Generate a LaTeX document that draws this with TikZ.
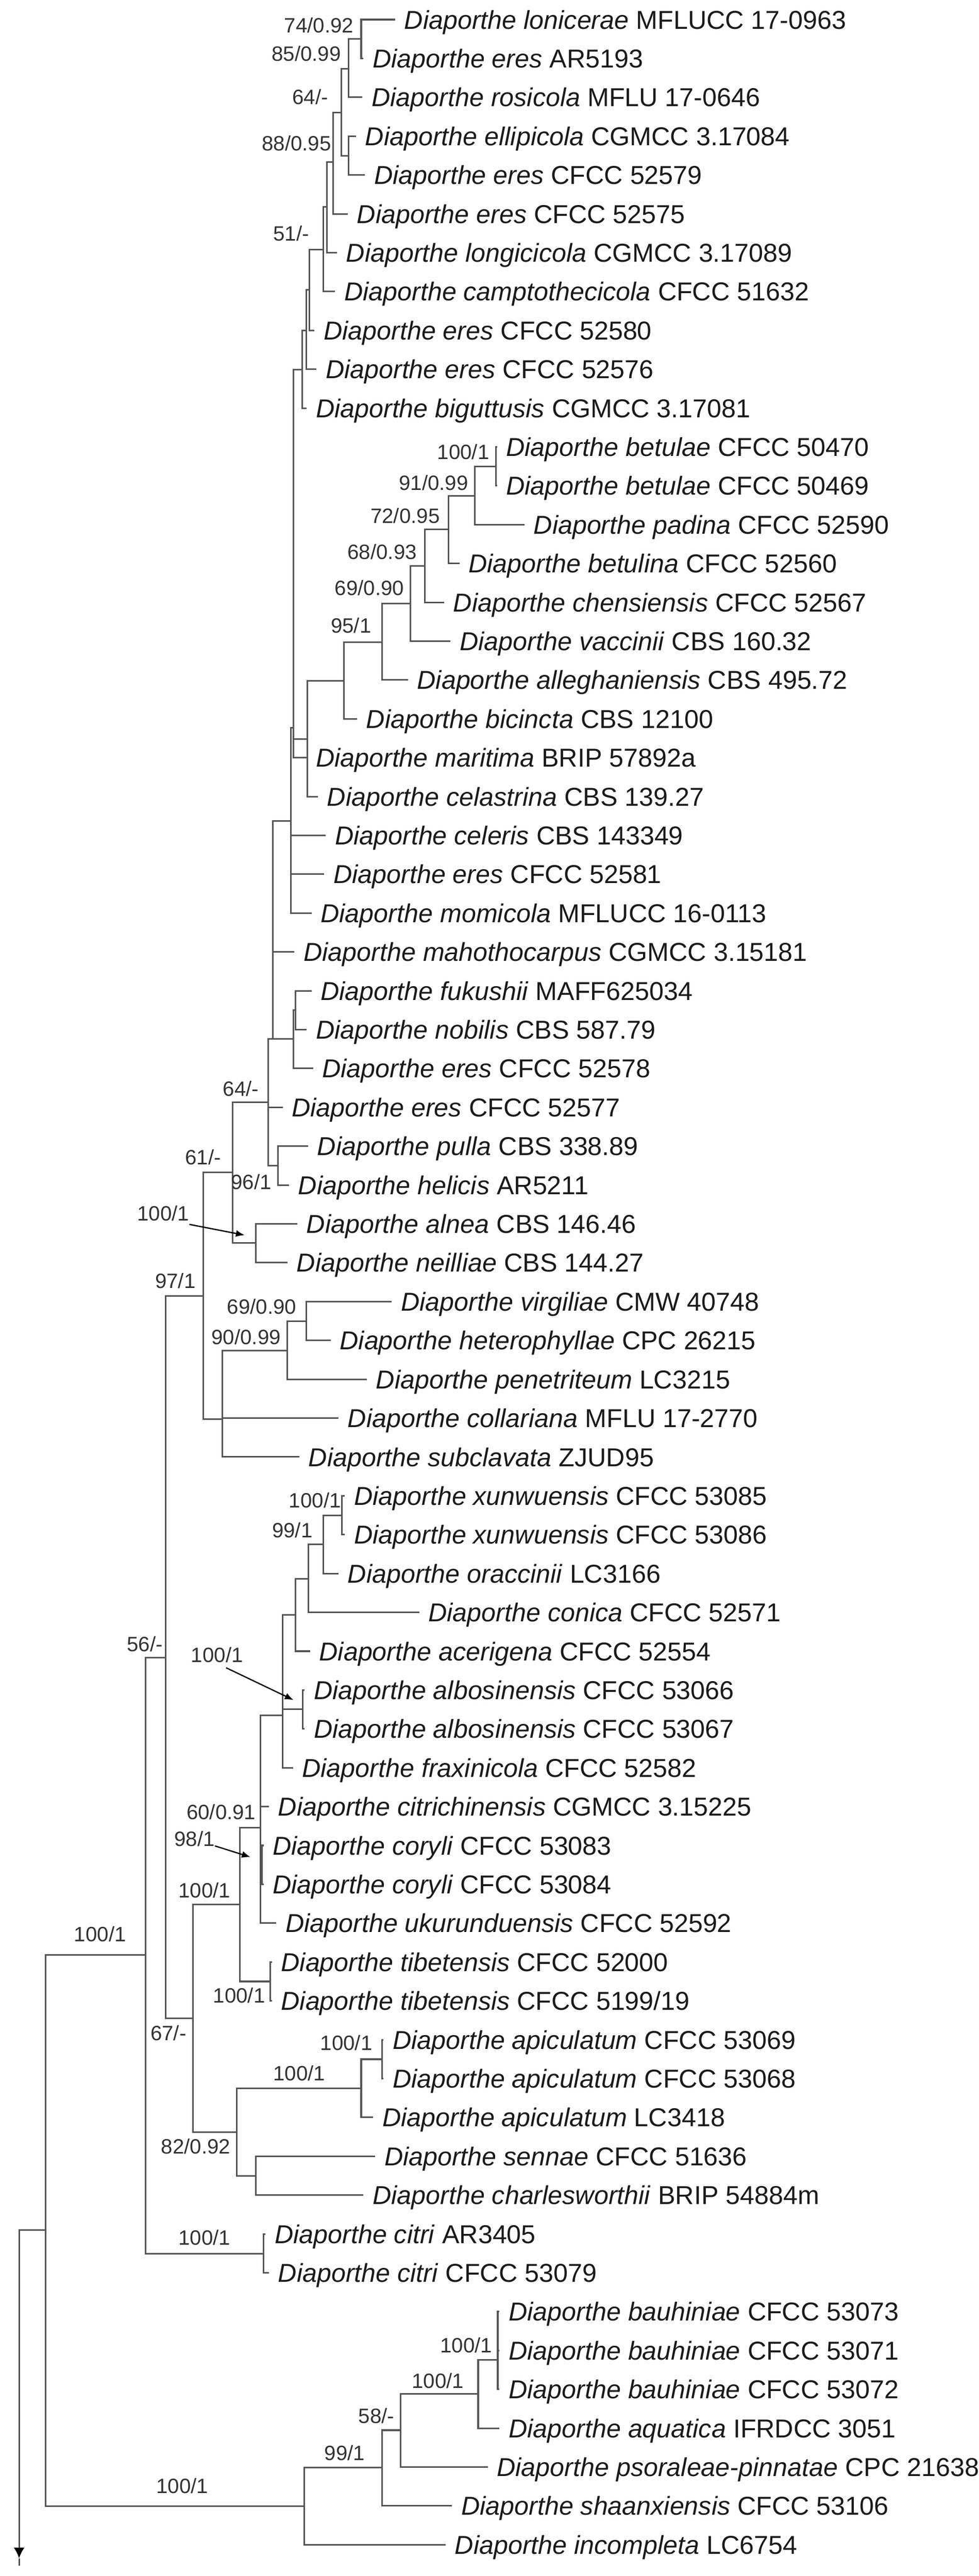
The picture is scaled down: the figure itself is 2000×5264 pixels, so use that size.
\documentclass[tikz,border=0pt]{standalone}
\usepackage{fontspec}
\setmainfont{Liberation Sans}
\usetikzlibrary{arrows.meta}
\definecolor{brcol}{HTML}{555555}
\definecolor{txtcol}{HTML}{1A1A1A}
\definecolor{labcol}{HTML}{333333}
\tikzset{
  branch/.style={draw=brcol, line width=1.6pt, line cap=rect},
  taxon/.style={anchor=base west, inner sep=0pt, text=txtcol, font=\fontsize{26.45pt}{30pt}\selectfont},
  suplabel/.style={anchor=base east, inner sep=0pt, text=labcol, font=\fontsize{21.2pt}{24pt}\selectfont},
  ptr/.style={draw=black, line width=1.3pt, -{Latex[length=9pt,width=7pt]}},
  rootline/.style={draw=brcol, line width=1.6pt}
}
\newcommand\mytaxon[5]{%
  \coordinate (#1) at (#2,{40+(#3-1)*79.385});
  \node[taxon] (#1l) at (#2+20,{40+(#3-1)*79.385+19}) {\textit{Diaporthe #4} #5};}
\newcommand\brch[2]{\draw[branch] (#1) |- (#2);}
\newcommand\suplab[4]{\node[suplabel] (#1) at (#2,#3+15) {#4};}
\begin{document}
\begin{tikzpicture}[x=0.5pt,y=-0.5pt]
\fill[white] (0,0) rectangle (2000,5264);
\useasboundingbox (0,0) rectangle (2000,5264);
% ---------- taxa ----------
\mytaxon{t1}{806}{1}{lonicerae}{MFLUCC 17-0963}
\mytaxon{t2}{741}{2}{eres}{AR5193}
\mytaxon{t3}{739}{3}{rosicola}{MFLU 17-0646}
\mytaxon{t4}{726}{4}{ellipicola}{CGMCC 3.17084}
\mytaxon{t5}{744}{5}{eres}{CFCC 52579}
\mytaxon{t6}{709}{6}{eres}{CFCC 52575}
\mytaxon{t7}{687}{7}{longicicola}{CGMCC 3.17089}
\mytaxon{t8}{683}{8}{camptothecicola}{CFCC 51632}
\mytaxon{t9}{641}{9}{eres}{CFCC 52580}
\mytaxon{t10}{645}{10}{eres}{CFCC 52576}
\mytaxon{t11}{625}{11}{biguttusis}{CGMCC 3.17081}
\mytaxon{t12}{1014}{12}{betulae}{CFCC 50470}
\mytaxon{t13}{1014}{13}{betulae}{CFCC 50469}
\mytaxon{t14}{1070}{14}{padina}{CFCC 52590}
\mytaxon{t15}{937}{15}{betulina}{CFCC 52560}
\mytaxon{t16}{906}{16}{chensiensis}{CFCC 52567}
\mytaxon{t17}{919}{17}{vaccinii}{CBS 160.32}
\mytaxon{t18}{832}{18}{alleghaniensis}{CBS 495.72}
\mytaxon{t19}{728}{19}{bicincta}{CBS 12100}
\mytaxon{t20}{625}{20}{maritima}{BRIP 57892a}
\mytaxon{t21}{648}{21}{celastrina}{CBS 139.27}
\mytaxon{t22}{664}{22}{celeris}{CBS 143349}
\mytaxon{t23}{661}{23}{eres}{CFCC 52581}
\mytaxon{t24}{635}{24}{momicola}{MFLUCC 16-0113}
\mytaxon{t25}{600}{25}{mahothocarpus}{CGMCC 3.15181}
\mytaxon{t26}{635}{26}{fukushii}{MAFF625034}
\mytaxon{t27}{625}{27}{nobilis}{CBS 587.79}
\mytaxon{t28}{638}{28}{eres}{CFCC 52578}
\mytaxon{t29}{576}{29}{eres}{CFCC 52577}
\mytaxon{t30}{628}{30}{pulla}{CBS 338.89}
\mytaxon{t31}{589}{31}{helicis}{AR5211}
\mytaxon{t32}{606}{32}{alnea}{CBS 146.46}
\mytaxon{t33}{586}{33}{neilliae}{CBS 144.27}
\mytaxon{t34}{799}{34}{virgiliae}{CMW 40748}
\mytaxon{t35}{674}{35}{heterophyllae}{CPC 26215}
\mytaxon{t36}{748}{36}{penetriteum}{LC3215}
\mytaxon{t37}{690}{37}{collariana}{MFLU 17-2770}
\mytaxon{t38}{610}{38}{subclavata}{ZJUD95}
\mytaxon{t39}{703}{39}{xunwuensis}{CFCC 53085}
\mytaxon{t40}{703}{40}{xunwuensis}{CFCC 53086}
\mytaxon{t41}{690}{41}{oraccinii}{LC3166}
\mytaxon{t42}{855}{42}{conica}{CFCC 52571}
\mytaxon{t43}{632}{43}{acerigena}{CFCC 52554}
\mytaxon{t44}{621}{44}{albosinensis}{CFCC 53066}
\mytaxon{t45}{621}{45}{albosinensis}{CFCC 53067}
\mytaxon{t46}{597}{46}{fraxinicola}{CFCC 52582}
\mytaxon{t47}{548}{47}{citrichinensis}{CGMCC 3.15225}
\mytaxon{t48}{537}{48}{coryli}{CFCC 53083}
\mytaxon{t49}{537}{49}{coryli}{CFCC 53084}
\mytaxon{t50}{563}{50}{ukurunduensis}{CFCC 52592}
\mytaxon{t51}{554}{51}{tibetensis}{CFCC 52000}
\mytaxon{t52}{554}{52}{tibetensis}{CFCC 5199/19}
\mytaxon{t53}{782}{53}{apiculatum}{CFCC 53069}
\mytaxon{t54}{782}{54}{apiculatum}{CFCC 53068}
\mytaxon{t55}{761}{55}{apiculatum}{LC3418}
\mytaxon{t56}{765}{56}{sennae}{CFCC 51636}
\mytaxon{t57}{741}{57}{charlesworthii}{BRIP 54884m}
\mytaxon{t58}{541}{58}{citri}{AR3405}
\mytaxon{t59}{548}{59}{citri}{CFCC 53079}
\mytaxon{t60}{1019}{60}{bauhiniae}{CFCC 53073}
\mytaxon{t61}{1019}{61}{bauhiniae}{CFCC 53071}
\mytaxon{t62}{1019}{62}{bauhiniae}{CFCC 53072}
\mytaxon{t63}{1019}{63}{aquatica}{IFRDCC 3051}
\mytaxon{t64}{995}{64}{psoraleae-pinnatae}{CPC 21638}
\mytaxon{t65}{922}{65}{shaanxiensis}{CFCC 53106}
\mytaxon{t66}{909}{66}{incompleta}{LC6754}
% ---------- internal nodes ----------
\coordinate (A) at (738,79);
\coordinate (B) at (712,141);
\coordinate (D) at (712,318);
\coordinate (C) at (697,230);
\coordinate (E) at (681,331);
\coordinate (F1) at (668,423);
\coordinate (F) at (661,510);
\coordinate (H1) at (632,592);
\coordinate (H) at (626,675);
\coordinate (I) at (617,755);
\coordinate (J) at (1013,953);
\coordinate (K) at (970,1013);
\coordinate (L) at (916,1082);
\coordinate (M) at (868,1156);
\coordinate (N) at (839,1233);
\coordinate (O) at (781,1312);
\coordinate (P) at (703,1391);
\coordinate (Q) at (628,1510);
\coordinate (S) at (600,1487);
\coordinate (R) at (594,1678);
\coordinate (U1) at (604,2064);
\coordinate (U) at (600,2123);
\coordinate (T) at (557,2123);
\coordinate (V) at (568,2382);
\coordinate (W) at (548,2252);
\coordinate (Y) at (523,2540);
\coordinate (X) at (475,2396);
\coordinate (AB) at (626,2700);
\coordinate (AC) at (587,2760);
\coordinate (AD) at (454,2900);
\coordinate (Z) at (415,2648);
\coordinate (BA) at (699,3097);
\coordinate (BB) at (661,3156);
\coordinate (BC) at (630,3226);
\coordinate (BD) at (604,3300);
\coordinate (BE) at (619,3493);
\coordinate (BF) at (577,3505);
\coordinate (BI) at (535,3810);
\coordinate (BH) at (532,3735);
\coordinate (BK) at (552,4049);
\coordinate (BJ) at (490,3892);
\coordinate (BO) at (781,4208);
\coordinate (BM) at (738,4267);
\coordinate (BN) at (523,4446);
\coordinate (BL) at (484,4357);
\coordinate (AH) at (394,4124);
\coordinate (AF) at (338,3387);
\coordinate (AJ) at (539,4605);
\coordinate (AI) at (297,3995);
\coordinate (AQ) at (1017,4763);
\coordinate (AP) at (1017,4822);
\coordinate (AO) at (977,4892);
\coordinate (AN) at (819,4966);
\coordinate (AM) at (781,5042);
\coordinate (AL) at (622,5121);
\coordinate (AK) at (93,4557);
\coordinate (root) at (39,4557);
\coordinate (rootarrow) at (39,5228);
\coordinate (rootend) at (39,5243);
% ---------- branches ----------
\brch{A}{t1}\brch{A}{t2}\brch{B}{A}\brch{B}{t3}
\brch{D}{t4}\brch{D}{t5}\brch{C}{B}\brch{C}{D}
\brch{E}{C}\brch{E}{t6}\brch{F1}{E}\brch{F1}{t7}
\brch{F}{F1}\brch{F}{t8}\brch{H1}{F}\brch{H1}{t9}
\brch{H}{H1}\brch{H}{t10}\brch{I}{H}\brch{I}{t11}
\brch{J}{t12}\brch{J}{t13}\brch{K}{J}\brch{K}{t14}
\brch{L}{K}\brch{L}{t15}\brch{M}{L}\brch{M}{t16}
\brch{N}{M}\brch{N}{t17}\brch{O}{N}\brch{O}{t18}
\brch{P}{O}\brch{P}{t19}\brch{Q}{P}\brch{Q}{t21}
\brch{S}{I}\brch{S}{Q}\brch{S}{t20}
\brch{R}{S}\brch{R}{t22}\brch{R}{t23}\brch{R}{t24}
\brch{U1}{t26}\brch{U1}{t27}\brch{U}{U1}\brch{U}{t28}
\brch{T}{R}\brch{T}{t25}\brch{T}{U}
\brch{V}{t30}\brch{V}{t31}
\brch{W}{T}\brch{W}{t29}\brch{W}{V}
\brch{Y}{t32}\brch{Y}{t33}\brch{X}{W}\brch{X}{Y}
\brch{AB}{t34}\brch{AB}{t35}\brch{AC}{AB}\brch{AC}{t36}
\brch{AD}{AC}\brch{AD}{t37}\brch{AD}{t38}
\brch{Z}{X}\brch{Z}{AD}
\brch{BA}{t39}\brch{BA}{t40}\brch{BB}{BA}\brch{BB}{t41}
\brch{BC}{BB}\brch{BC}{t42}\brch{BD}{BC}\brch{BD}{t43}
\brch{BE}{t44}\brch{BE}{t45}
\brch{BF}{BD}\brch{BF}{BE}\brch{BF}{t46}
\brch{BI}{t48}\brch{BI}{t49}
\brch{BH}{BF}\brch{BH}{t47}\brch{BH}{BI}\brch{BH}{t50}
\brch{BK}{t51}\brch{BK}{t52}\brch{BJ}{BH}\brch{BJ}{BK}
\brch{BO}{t53}\brch{BO}{t54}\brch{BM}{BO}\brch{BM}{t55}
\brch{BN}{t56}\brch{BN}{t57}\brch{BL}{BM}\brch{BL}{BN}
\brch{AH}{BJ}\brch{AH}{BL}
\brch{AF}{Z}\brch{AF}{AH}
\brch{AJ}{t58}\brch{AJ}{t59}
\brch{AI}{AF}\brch{AI}{AJ}
\brch{AQ}{t60}\brch{AQ}{t61}\brch{AP}{AQ}\brch{AP}{t62}
\brch{AO}{AP}\brch{AO}{t63}\brch{AN}{AO}\brch{AN}{t64}
\brch{AM}{AN}\brch{AM}{t65}\brch{AL}{AM}\brch{AL}{t66}
\brch{AK}{AI}\brch{AK}{AL}
\draw[branch] (root) -- (AK);
\draw[rootline, -{Latex[length=11pt,width=11pt,color=black,fill=black]}] (root) -- (rootarrow);
\draw[rootline] (rootarrow) -- (rootend);
% ---------- support values ----------
\suplab{s1}{723}{52}{74/0.92}
\suplab{s2}{697}{110}{85/0.99}
\suplab{s3}{671}{198}{64/-}
\suplab{s4}{677}{293}{88/0.95}
\suplab{s5}{632}{477}{51/-}
\suplab{s6}{1000}{924}{100/1}
\suplab{s7}{957}{987}{91/0.99}
\suplab{s8}{899}{1054}{72/0.95}
\suplab{s9}{852}{1128}{68/0.93}
\suplab{s10}{826}{1202}{69/0.90}
\suplab{s11}{759}{1278}{95/1}
\suplab{s12}{529}{2225}{64/-}
\suplab{s13}{452}{2365}{61/-}
\suplab{s14}{555}{2415}{96/1}
\suplab{s15}{387}{2480}{100/1}
\suplab{s16}{400}{2618}{97/1}
\suplab{s17}{606}{2670}{69/0.90}
\suplab{s18}{574}{2732}{90/0.99}
\suplab{s19}{697}{3066}{100/1}
\suplab{s20}{639}{3127}{99/1}
\suplab{s21}{333}{3360}{56/-}
\suplab{s22}{497}{3382}{100/1}
\suplab{s23}{523}{3703}{60/0.91}
\suplab{s24}{439}{3758}{98/1}
\suplab{s25}{471}{3863}{100/1}
\suplab{s26}{258}{3952}{100/1}
\suplab{s27}{542}{4078}{100/1}
\suplab{s28}{381}{4155}{67/-}
\suplab{s29}{761}{4175}{100/1}
\suplab{s30}{665}{4237}{100/1}
\suplab{s31}{471}{4386}{82/0.92}
\suplab{s32}{471}{4573}{100/1}
\suplab{s33}{1006}{4793}{100/1}
\suplab{s34}{948}{4865}{100/1}
\suplab{s35}{806}{4937}{58/-}
\suplab{s36}{746}{5013}{99/1}
\suplab{s37}{426}{5080}{100/1}
% ---------- pointer arrows ----------
\coordinate (p1s) at (387,2502); \coordinate (p1e) at (500,2524);
\coordinate (p2s) at (462,3408); \coordinate (p2e) at (600,3474);
\coordinate (p3s) at (439,3772); \coordinate (p3e) at (512,3795);
\draw[ptr] (p1s) -- (p1e);
\draw[ptr] (p2s) -- (p2e);
\draw[ptr] (p3s) -- (p3e);
\end{tikzpicture}
\end{document}
